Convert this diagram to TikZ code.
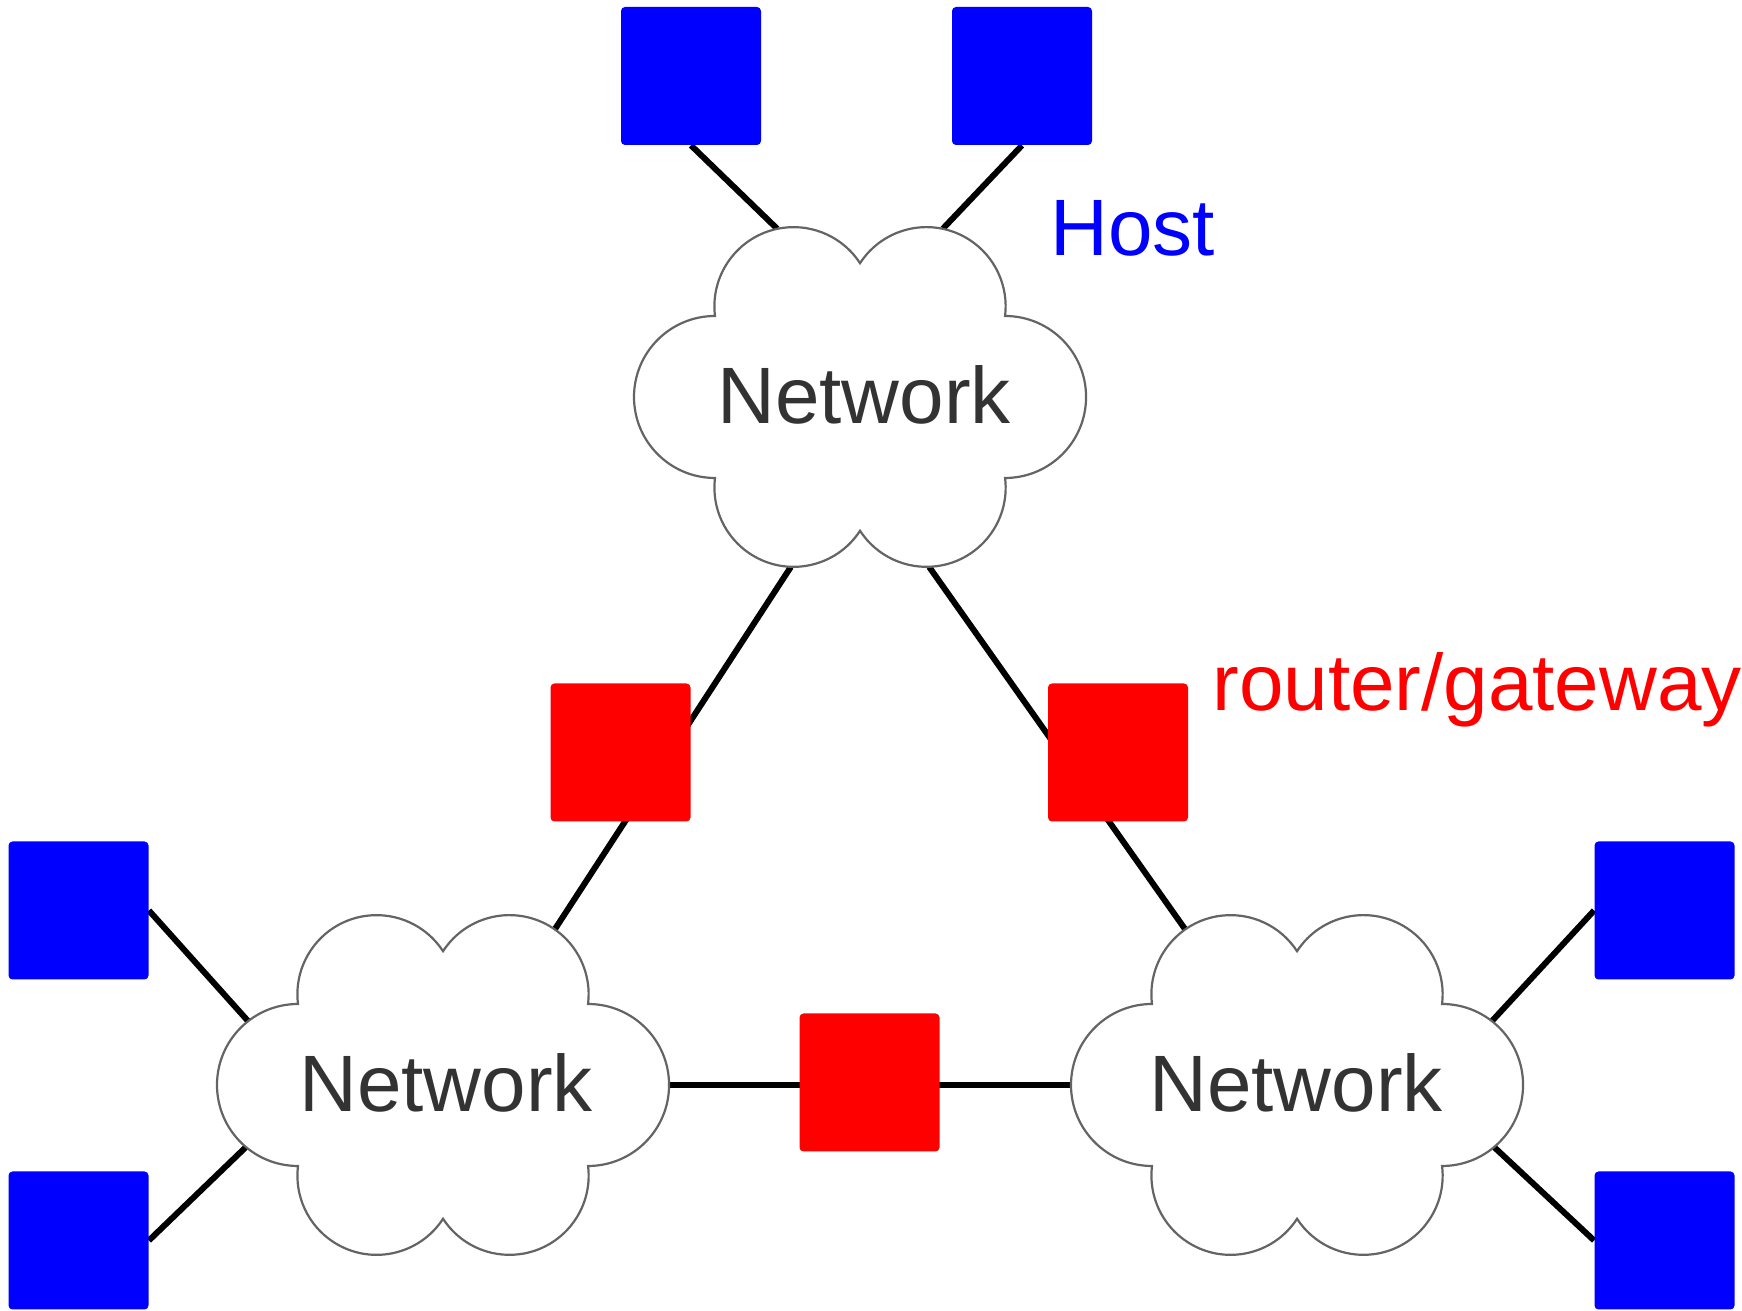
\documentclass[tikz,border=0pt]{standalone}
\usepackage{fontspec}
\setmainfont{Liberation Sans}
\pgfdeclarelayer{background}
\pgfsetlayers{background,main}
\definecolor{hostblue}{RGB}{0,0,255}
\definecolor{routerred}{RGB}{255,0,0}
\definecolor{cloudgray}{RGB}{100,100,100}
\definecolor{textgray}{RGB}{51,51,51}
\tikzset{
  hostbox/.style={fill=hostblue, draw=none, rounded corners=2pt, inner sep=0pt,
    minimum width=70pt, minimum height=69pt},
  routerbox/.style={fill=routerred, draw=none, rounded corners=2pt, inner sep=0pt,
    minimum width=70pt, minimum height=69pt},
  link/.style={draw=black, line width=3pt},
  cloudline/.style={draw=cloudgray, fill=white, line width=1.1pt},
  nettext/.style={text=textgray, inner sep=0pt, font=\fontsize{40pt}{48pt}\selectfont},
  labeltext/.style={inner sep=0pt, anchor=base west, font=\fontsize{40pt}{48pt}\selectfont},
  netcloud/.pic={
    \path[cloudline] (-145,81)
      arc[start angle=187, end angle=33, radius=79.2]
      arc[start angle=147, end angle=-7, radius=79.2]
      arc[start angle=90, end angle=-90, radius=81]
      arc[start angle=7, end angle=-147, radius=79.2]
      arc[start angle=-33, end angle=-187, radius=79.2]
      arc[start angle=-90, end angle=-270, radius=81] -- cycle;
    \node[nettext] (-txt) at (#1,2) {Network};
    \path (-66.4,90.8) ++(102:79.2) coordinate (-ntl);
    \path (66.4,90.8) ++(78:79.2) coordinate (-ntr);
    \path (-66.4,90.8) ++(125:79.2) coordinate (-ctl);
    \path (66.4,90.8) ++(55:79.2) coordinate (-ctr);
    \path (-66.4,-90.8) ++(268:79.2) coordinate (-bl);
    \path (66.4,-90.8) ++(272:79.2) coordinate (-br);
    \path (145,0) ++(0:81) coordinate (-e);
    \path (-145,0) ++(180:81) coordinate (-w);
    \path (-145,0) ++(128:81) coordinate (-wu);
    \path (-145,0) ++(230:81) coordinate (-wd);
    \path (145,0) ++(52:81) coordinate (-eu);
    \path (145,0) ++(-50:81) coordinate (-ed);
  }
}
\begin{document}
\begin{tikzpicture}[x=0.5pt, y=0.5pt]
\useasboundingbox (0,0) rectangle (1742,1311);
\begin{pgfonlayer}{background}
\fill[white] (0,0) rectangle (1742,1311);
\end{pgfonlayer}

% clouds
\pic (c1) at (860,914) {netcloud=4};
\pic (c2) at (443,226) {netcloud=3};
\pic (c3) at (1297,226) {netcloud=-1};

% hosts
\node[hostbox] (h1) at (691,1235) {};
\node[hostbox] (h2) at (1022,1235) {};
\node[hostbox] (h3) at (78.5,400.5) {};
\node[hostbox] (h4) at (78.5,70.5) {};
\node[hostbox] (h5) at (1664.5,400.5) {};
\node[hostbox] (h6) at (1664.5,70.5) {};

% routers
\node[routerbox] (r1) at (620.5,558.5) {};
\node[routerbox] (r2) at (1118,558.5) {};
\node[routerbox] (r3) at (869.5,228.5) {};

% labels
\node[labeltext, text=hostblue] (lhost) at (1050,1055) {Host};
\node[labeltext, text=routerred] (lrouter) at (1212,600) {router/gateway};

% connectors
\begin{pgfonlayer}{background}
\draw[link] (h1.south) -- (c1-ntl);
\draw[link] (h2.south) -- (c1-ntr);
\draw[link] (h3.east) -- (c2-wu);
\draw[link] (h4.east) -- (c2-wd);
\draw[link] (h5.west) -- (c3-eu);
\draw[link] (h6.west) -- (c3-ed);
\draw[link] (c1-bl) -- (c2-ctr);
\draw[link] (c1-br) -- (c3-ctl);
\draw[link] (c2-e) -- (c3-w);
\end{pgfonlayer}
\end{tikzpicture}
\end{document}
